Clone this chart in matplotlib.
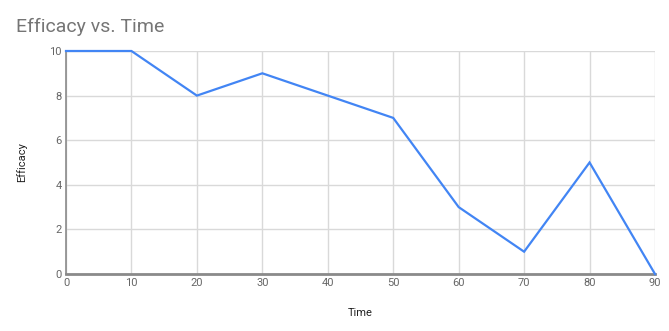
import matplotlib
matplotlib.use('Agg')
import matplotlib.pyplot as plt

time = [0, 10, 20, 30, 40, 50, 60, 70, 80, 90]
efficacy = [10, 10, 8, 9, 8, 7, 3, 1, 5, 0]
x_ticks = [0, 10, 20, 30, 40, 50, 60, 70, 80, 90]
y_ticks = [0, 2, 4, 6, 8, 10]

plt.rcParams['font.family'] = ['Roboto', 'DejaVu Sans']

fig = plt.figure(figsize=(6.69, 3.31), dpi=100)
ax = fig.add_axes([66 / 669, 1 - 274 / 331, 589 / 669, 223 / 331])

ax.plot(time, efficacy, color='#4285F4', linewidth=1.6, solid_joinstyle='miter', clip_on=False, zorder=3)

ax.set_xlim(0, 90)
ax.set_ylim(0, 10)
ax.set_xticks(x_ticks)
ax.set_yticks(y_ticks)
ax.grid(True, color='#d9d9d9', linewidth=1)
ax.set_axisbelow(True)

for side in ['top', 'right']:
    ax.spines[side].set_visible(False)
ax.spines['left'].set_color('#8a8a8a')
ax.spines['left'].set_linewidth(1.2)
ax.spines['bottom'].set_color('#8a8a8a')
ax.spines['bottom'].set_linewidth(2)
ax.spines['bottom'].set_zorder(2)

ax.tick_params(length=0, labelsize=8, labelcolor='#666666', pad=3)

ax.set_xlabel('Time', fontsize=8, color='#222222', labelpad=14.5)
ax.set_ylabel('Efficacy', fontsize=8, color='#222222', labelpad=16)

fig.text(16 / 669, 1 - 32 / 331, 'Efficacy vs. Time', fontsize=14, color='#757575', ha='left', va='baseline')

fig.savefig('out.png', dpi=100)
